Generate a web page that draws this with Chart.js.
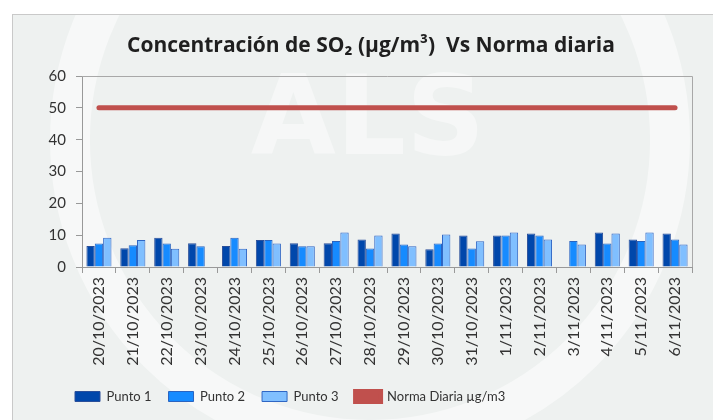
<!DOCTYPE html>
<html>
<head>
<meta charset="utf-8">
<script src="https://cdn.jsdelivr.net/npm/chart.js@4.4.0/dist/chart.umd.min.js"></script>
<style>
  html, body { margin: 0; padding: 0; background: #fff; }
  #wrap { width: 713px; height: 420px; }
</style>
</head>
<body>
<div id="wrap"><canvas id="chartSO2" width="713" height="420"></canvas></div>
<script>
var fechas = [
    "20/10/2023", "21/10/2023", "22/10/2023", "23/10/2023", "24/10/2023", "25/10/2023",
    "26/10/2023", "27/10/2023", "28/10/2023", "29/10/2023", "30/10/2023", "31/10/2023",
    "1/11/2023", "2/11/2023", "3/11/2023", "4/11/2023", "5/11/2023", "6/11/2023",
];
var punto1 = [6.6, 5.9, 9.2, 7.5, 6.6, 8.5, 7.5, 7.5, 8.6, 10.5, 5.6, 9.9, 9.9, 10.5, null, 10.8, 8.6, 10.5];
var punto2 = [7.4, 6.8, 7.4, 6.5, 9.2, 8.5, 6.5, 8.2, 5.8, 7.1, 7.4, 5.8, 9.9, 9.9, 8.2, 7.4, 8.2, 8.6];
var punto3 = [9.2, 8.5, 5.7, null, 5.7, 7.4, 6.5, 10.8, 9.9, 6.5, 10.2, 8.1, 10.8, 8.6, 7.1, 10.5, 10.8, 7.1];
var norma = [50, 50, 50, 50, 50, 50, 50, 50, 50, 50, 50, 50, 50, 50, 50, 50, 50, 50];
var yTicks = [0, 10, 20, 30, 40, 50, 60];

// fondo gris, marca de agua, marco del grafico y titulo
var decoracion = {
    id: "decoracion",
    afterLayout: function (chart) {
        // la leyenda empieza un poco mas a la derecha
        chart.legend.left = 58;
    },
    beforeDraw: function (chart) {
        var c = chart.ctx;
        c.save();
        c.fillStyle = "#ffffff";
        c.fillRect(0, 0, chart.width, chart.height);
        c.fillStyle = "#eef1f0";
        c.fillRect(12, 14, chart.width - 12, chart.height - 14);
        // marca de agua ALS
        c.strokeStyle = "rgba(255,255,255,0.5)";
        c.lineWidth = 40;
        c.beginPath();
        c.arc(370, 140, 300, 0, Math.PI * 2);
        c.stroke();
        c.fillStyle = "rgba(255,255,255,0.45)";
        c.font = "bold 110px 'DejaVu Sans'";
        c.textAlign = "center";
        c.textBaseline = "middle";
        c.fillText("ALS", 368, 125);
        c.strokeStyle = "#c9c9c9";
        c.lineWidth = 1;
        c.strokeRect(12.5, 14.5, chart.width - 12, chart.height - 14);
        c.restore();
    },
    afterDatasetsDraw: function (chart) {
        var c = chart.ctx;
        var a = chart.chartArea;
        c.save();
        c.strokeStyle = "#a8a8a8";
        c.lineWidth = 1;
        c.beginPath();
        c.moveTo(a.left, a.top + 0.5);
        c.lineTo(a.right + 0.5, a.top + 0.5);
        c.lineTo(a.right + 0.5, a.bottom);
        c.stroke();
        c.fillStyle = "#1f1f1f";
        c.font = "bold 21px 'Open Sans'";
        c.textAlign = "center";
        c.textBaseline = "middle";
        c.fillText("Concentración de SO\u2082 (µg/m\u00b3)  Vs Norma diaria", 371, 46);
        c.restore();
    },
};

var ctxSO2 = document.getElementById("chartSO2").getContext("2d");
var chartSO2 = new Chart(ctxSO2, {
    type: "bar",
    data: {
        labels: fechas,
        datasets: [{
            type: "line",
            label: "Norma Diaria µg/m3",
            data: norma,
            borderColor: "#c0504d",
            backgroundColor: "#c0504d",
            borderWidth: 5,
            borderCapStyle: "round",
            pointRadius: 0,
            order: 0,
        }, {
            label: "Punto 1",
            data: punto1,
            backgroundColor: "#0047ab",
            borderColor: "#2a4f9a",
            borderWidth: 1,
            order: 1,
        }, {
            label: "Punto 2",
            data: punto2,
            backgroundColor: "#168bff",
            borderColor: "#2a64c0",
            borderWidth: 1,
            order: 1,
        }, {
            label: "Punto 3",
            data: punto3,
            backgroundColor: "#80bfff",
            borderColor: "#2f66c4",
            borderWidth: 1,
            order: 1,
        }],
    },
    options: {
        responsive: false,
        animation: false,
        layout: { padding: { top: 76, left: 32, right: 21, bottom: 7 } },
        datasets: { bar: { categoryPercentage: 0.74, barPercentage: 1 } },
        scales: {
            x: {
                grid: { display: true, drawOnChartArea: false, tickLength: 6, color: "#999" },
                border: { color: "#999" },
                ticks: {
                    minRotation: 90,
                    maxRotation: 90,
                    autoSkip: false,
                    color: "#333",
                    padding: 4,
                    font: { family: "Lato", size: 16 },
                },
                afterFit: function (s) { s.height = 106; },
            },
            y: {
                min: 0,
                max: 60,
                afterBuildTicks: function (s) { s.ticks = yTicks.map(function (v) { return { value: v }; }); },
                grid: { display: true, drawOnChartArea: false, tickLength: 6, color: "#999" },
                border: { color: "#999" },
                ticks: { color: "#333", padding: 10, font: { family: "Lato", size: 15 } },
                afterFit: function (s) { s.width = 50; },
            },
        },
        plugins: {
            title: { display: false },
            tooltip: { enabled: false },
            legend: {
                position: "bottom",
                align: "start",
                labels: {
                    sort: function (a, b) { return (a.datasetIndex || 9) - (b.datasetIndex || 9); },
                    boxWidth: 25,
                    boxHeight: 10,
                    padding: 17,
                    color: "#333",
                    font: { family: "Lato", size: 13 },
                },
            },
        },
    },
    plugins: [decoracion],
});
</script>
</body>
</html>
